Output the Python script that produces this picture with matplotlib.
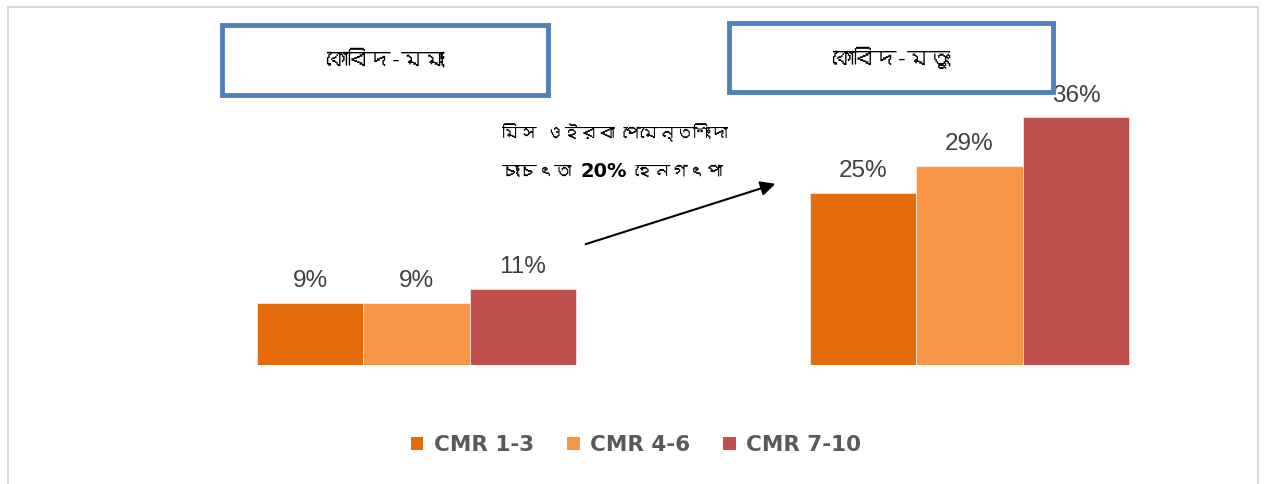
import matplotlib
matplotlib.use("Agg")
import matplotlib.pyplot as plt
from matplotlib import font_manager
from matplotlib.patches import Rectangle, Patch
from matplotlib.ft2font import FT2Font

# data
groups = ["কোবিদ-মমাং", "কোবিদ-মতুং"]
series = ["CMR 1-3", "CMR 4-6", "CMR 7-10"]
cmr_1_3 = [9, 25]
cmr_4_6 = [9, 29]
cmr_7_10 = [11, 36]
colors = ["#E46C0A", "#F79646", "#C0504D"]
note_line1 = "মিস ওইরবা পেমেন্তশিংদা"
note_parts2 = ["চাংচৎতা ", "20%", " হেনগৎপা"]

# look for a font with bengali glyphs
beng = None
for f in font_manager.fontManager.ttflist:
    try:
        if 0x0995 in FT2Font(f.fname).get_charmap():
            beng = f.name
            break
    except Exception:
        pass
bn_family = [beng, "DejaVu Sans"] if beng else ["DejaVu Sans"]

W, H = 1264, 484
fig = plt.figure(figsize=(W / 100, H / 100), dpi=100)

# outer grey frame
fig.patches.append(Rectangle((8 / W, 3 / H - 0.02), 1250 / W, 1.0, transform=fig.transFigure,
                             fill=False, edgecolor="#D9D9D9", linewidth=1.5))

ax = fig.add_axes([140 / W, 119 / H, 1106 / W, 275 / H])
w = 0.1926
x = [0, 1]
for i, (vals, name) in enumerate(zip([cmr_1_3, cmr_4_6, cmr_7_10], series)):
    xs = [xi + (i - 1) * w for xi in x]
    bars = ax.bar(xs, vals, width=w, color=colors[i], edgecolor="white", linewidth=0.4, label=name)
    for b, v in zip(bars, vals):
        ax.annotate(f"{v}%", (b.get_x() + b.get_width() / 2, v), xytext=(0, 11.5),
                    textcoords="offset points", ha="center", va="baseline",
                    fontsize=17.5, color="#404040", family="Liberation Sans")
ax.set_xlim(-0.5, 1.5)
ax.set_ylim(0, 40)
ax.axis("off")

# title boxes
boxes = [(222, 25, 548, 95), (729, 23, 1053, 92)]
for (x0, y0, x1, y1), g in zip(boxes, groups):
    fig.patches.append(Rectangle((x0 / W, 1 - y1 / H), (x1 - x0) / W, (y1 - y0) / H,
                                 transform=fig.transFigure, fill=False,
                                 edgecolor="#4F81BD", linewidth=3.5))
    fig.text((x0 + x1) / 2 / W, 1 - (y0 + y1) / 2 / H, g, ha="center", va="center",
             fontsize=15.5, fontweight="bold", family=bn_family, color="black")

# note text
fig.text(502 / W, 1 - 133 / H, note_line1, ha="left", va="center",
         fontsize=12.5, fontweight="bold", family=bn_family)
fig.canvas.draw()
r = fig.canvas.get_renderer()
xpos = 502
for j, part in enumerate(note_parts2):
    t = fig.text(xpos / W, 1 - 172 / H, part, ha="left", va="center",
                 fontsize=12.5 if j != 1 else 14,
                 fontweight="bold", family=bn_family if j != 1 else ["DejaVu Sans"])
    xpos += t.get_window_extent(renderer=r).width

ax.annotate("", xy=(778, H - 183), xytext=(583, H - 245), xycoords="figure pixels",
            textcoords="figure pixels",
            arrowprops=dict(arrowstyle="-|>", color="black", lw=1.5, mutation_scale=22))

handles = [Patch(facecolor=c, edgecolor="none", label=s) for c, s in zip(colors, series)]
leg = fig.legend(handles=handles, loc="center", bbox_to_anchor=(636 / W, 1 - 445 / H), ncol=3,
                 frameon=False, handlelength=0.6, handleheight=0.6, handletextpad=0.5,
                 columnspacing=1.5, prop=dict(size=15.5, weight="bold"))
for t in leg.get_texts():
    t.set_color("#595959")

fig.savefig("out.png", dpi=100)
